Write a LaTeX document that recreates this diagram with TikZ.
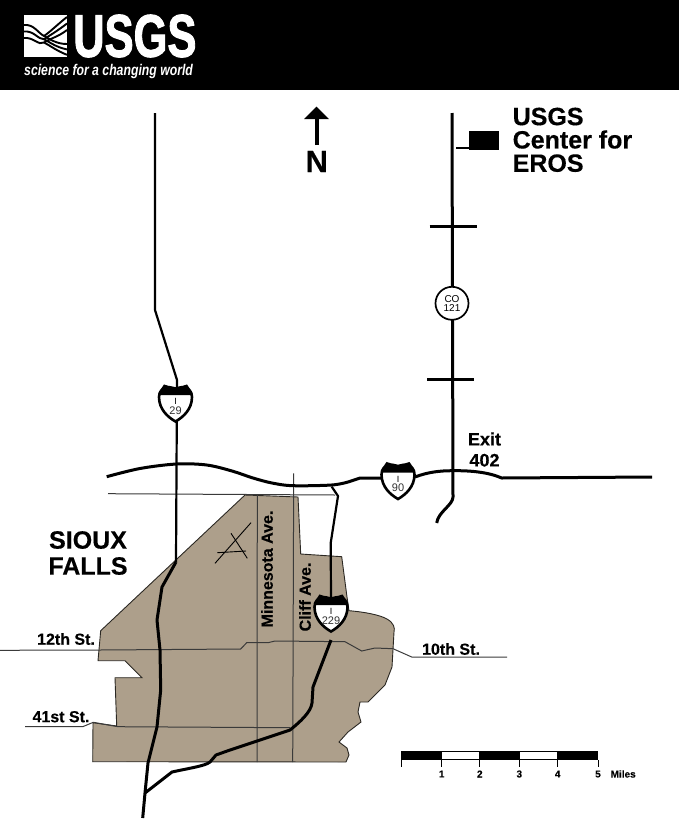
\documentclass[tikz,border=0pt]{standalone}
\usepackage{fontspec}
\usepackage{graphicx}
\setmainfont{Liberation Sans}[BoldFeatures={FakeBold=0.35}]
\newfontfamily\logofont{Liberation Sans Bold}[FakeBold=2]
\definecolor{citytan}{HTML}{AD9F8B}
\definecolor{streetgray}{HTML}{3A3A3A}
\tikzset{
    road/.style={line width=3pt,line join=round},
    thinroad/.style={line width=2.2pt,line join=round},
    street/.style={line width=1pt,draw=streetgray},
    maplabel/.style={font=\bfseries\fontsize{#1}{#1}\selectfont,inner sep=0pt,text=black},
    maplabel/.default=16,
    blocklabel/.style 2 args={font=\bfseries\fontsize{#1}{#2}\selectfont,inner sep=0pt,text=black},
    tickline/.style={line width=1pt},
    pics/ishield/.style={code={
        \fill[white,draw=black,line width=2.6pt] (-11,1) .. controls (-6,3) and (-3,2) .. (0,3.5) .. controls (3,2) and (6,3) .. (11,1)
            .. controls (13,5) and (16.5,6) .. (16.5,12) .. controls (16.5,24) and (8,32) .. (0,36.5)
            .. controls (-8,32) and (-16.5,24) .. (-16.5,12) .. controls (-16.5,6) and (-13,5) .. (-11,1) -- cycle;
        \fill[black] (-11,1) .. controls (-6,3) and (-3,2) .. (0,3.5) .. controls (3,2) and (6,3) .. (11,1)
            .. controls (13,5) and (16,6) .. (16.5,10) -- (-16.5,10) .. controls (-16,6) and (-13,5) .. (-11,1) -- cycle;
        \node[inner sep=0pt,font=\fontsize{9}{9}\selectfont] (-i) at (0,16.5) {I};
        \node[inner sep=0pt,font=\fontsize{11}{11}\selectfont,text=black!80] (-num) at (0,25.5) {#1};
    }}
}

\begin{document}
\begin{tikzpicture}[x=1pt,y=-1pt]
    \useasboundingbox (0,0) rectangle (679,819);

    % header
    \fill[black] (0,0) rectangle (679,90);
    \fill[white] (24,15) rectangle (67,57);
    \foreach \dy in {0,6.5,13} {
        \draw[black,line width=1.9pt] (24,25+\dy) .. controls (34,24+\dy) and (38,33+\dy) .. (44,36+\dy/2)
            .. controls (50,39+\dy/2) and (56,44+\dy/2) .. (67,44+\dy/1.2);
        \draw[black,line width=1.9pt] (44,36+\dy/2) .. controls (50,32+\dy/2) and (58,24+\dy) .. (67,17+\dy);
    }
    \node[inner sep=0pt,text=white,font=\logofont\fontsize{60}{60}\selectfont,anchor=west] (logoword) at (73,36) {\scalebox{.725}[1]{USGS}};
    \node[inner sep=0pt,text=white,font=\bfseries\itshape\fontsize{15.5}{15.5}\selectfont,anchor=west] (logoline) at (24,71.5) {\scalebox{.79}[1]{science for a changing world}};

    % city
    \draw[fill=citytan,draw=black!75!citytan,line width=.9pt] (245,495) -- (298,497) -- (300.7,554) -- (341.7,556.7) -- (347,597) -- (349,610.7)
        .. controls (365,612) and (380,615) .. (387,619) .. controls (394,623) and (395,628) .. (394,632)
        -- (392,667) -- (385,685) -- (368,702) -- (360,702) -- (358,712) -- (361,722) -- (348,732) -- (339,742) -- (347,748) -- (349,755) -- (346,762)
        -- (92.7,761.7) -- (93,722.7) -- (116.7,726) -- (115,677.7) -- (142,677.7) -- (125,660.7) -- (98,660.7) -- (100.7,630.7) -- cycle;

    % streets
    \draw[street] (108,493.7) -- (335,495);
    \draw[street] (257.3,495) -- (257,762);
    \draw[street] (293.7,473.3) -- (292.7,762);
    \draw[street] (0,650.3) -- (100,650) -- (240.7,649) -- (246.7,642.7) -- (268,642.7) -- (275,641) -- (345,641.7) -- (361.7,651) -- (375,648) -- (393,648.7) -- (411.7,657) -- (507,657);
    \draw[street] (25,726.7) -- (82.7,726.7) -- (93.3,722.3) -- (118,726.7) -- (290,727.7);
    \draw[black,line width=.9pt] (251,522.7) -- (215,563.3);
    \draw[black,line width=.9pt] (231,533.3) -- (247.3,558.3);
    \draw[black,line width=.9pt] (217.3,552.7) -- (246,551);

    % highways
    \draw[thinroad] (155,113) -- (155,310) -- (177,380) -- (176,562);
    \draw[road] (176,562) -- (162,587) -- (157,620) -- (160,650) -- (160.7,690) -- (157,727) -- (148,763) -- (145,793) -- (142.7,818);
    \draw[road] (145,793) -- (172,772) .. controls (190,768) and (205,766) .. (210,762) -- (216,755) -- (230,750) -- (290,730) .. controls (300,722) and (311,712) .. (312,703) -- (313,687) -- (331,640);
    \draw[thinroad] (331,600) -- (330.7,543) -- (338,496) -- (331.7,486.7);
    \draw[road] plot[smooth,tension=.55] coordinates {(106.7,476.7) (140,468.5) (176.7,464) (206.7,465) (232,471) (253,478) (272,483) (293,485.7) (331.7,485) (348,482)} -- (360,478) -- (383,478);
    \draw[road] (415,477) .. controls (428,472) and (440,470.7) .. (453,470.7) .. controls (470,470.5) and (488,472) .. (501.7,478) -- (652,477);
    \draw[road] (452,113) -- (453,497) .. controls (453,505) and (438,512) .. (436.7,523);
    \draw[road] (429.5,226.7) -- (476.7,226.7);
    \draw[road] (427,379) -- (474,379);

    % shields
    \pic (shieldA) at (175.5,385) {ishield=29};
    \pic (shieldB) at (398,462.5) {ishield=90};
    \pic (shieldC) at (331,595) {ishield=229};
    \node[circle,draw=black,fill=white,line width=1.7pt,minimum size=33pt,inner sep=0pt,align=center,font=\fontsize{10}{9.5}\selectfont] (county) at (452,303.3) {CO\\121};

    % center
    \fill[black] (469,131) rectangle (499.3,150) coordinate (eros);
    \coordinate (erosleft) at (469,148);
    \draw[black,line width=1.8pt] (erosleft) -- (455.7,148);

    % north
    \draw[black,line width=4pt] (316.5,145) -- (316.5,115);
    \fill[black] (316.5,106.7) -- (329,119) -- (304,119) -- cycle;
    \node[maplabel=31] (north) at (316.8,161.5) {N};

    % labels
    \node[blocklabel={25}{23.3},anchor=north west,align=left] (eroslabel) at (512.5,107.5) {USGS\\Center for\\EROS};
    \node[blocklabel={25}{26},align=center] (city) at (88,553) {SIOUX\\FALLS};
    \node[blocklabel={18}{21},align=center] (exit) at (484.5,449.5) {Exit\\402};
    \node[maplabel,rotate=90] (minn) at (267,569) {Minnesota Ave.};
    \node[maplabel,rotate=90] (cliff) at (305,597) {Cliff Ave.};
    \node[maplabel] (twelfth) at (66,639) {12th St.};
    \node[maplabel] (fortyfirst) at (61,716.7) {41st St.};
    \node[maplabel] (tenth) at (451,649) {10th St.};

    % scale
    \draw[black,line width=.8pt,fill=white] (441.7,751.5) rectangle (479.3,759.5);
    \draw[black,line width=.8pt,fill=white] (519.3,751.5) rectangle (557.7,759.5);
    \fill[black] (401,751) rectangle (441.7,760);
    \fill[black] (479.3,751) rectangle (519.3,760);
    \fill[black] (557.7,751) rectangle (598.3,760);
    \foreach \xpos/\mile in {401/,441.7/1,479.8/2,519.3/3,557.7/4,598/5} {
        \draw[tickline] (\xpos,760) -- (\xpos,767);
        \node[maplabel=10] (mile\mile) at (\xpos,774) {\mile};
    }
    \node[maplabel=10,anchor=west] (miles) at (610.5,774) {Miles};
\end{tikzpicture}
\end{document}
